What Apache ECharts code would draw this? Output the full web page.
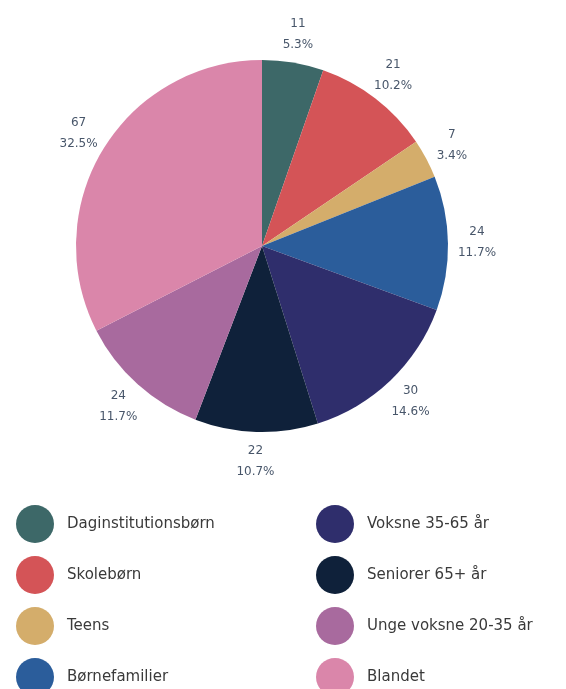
<!DOCTYPE html>
<html>
<head>
<meta charset="utf-8">
<script src="https://cdn.jsdelivr.net/npm/echarts@6/dist/echarts.min.js"></script>
<style>html,body{margin:0;padding:0;background:#fff;}#c{width:566px;height:689px;}</style>
</head>
<body>
<div id="c"></div>
<script>
const categories = ["Daginstitutionsbørn","Skolebørn","Teens","Børnefamilier","Voksne 35-65 år","Seniorer 65+ år","Unge voksne 20-35 år","Blandet"];
const values = [11, 21, 7, 24, 30, 22, 24, 67];
const colors = ["#3d6868","#d45457","#d4ad6b","#2b5d9b","#2f2e6c","#0f213a","#a86a9e","#da86aa"];
const leftLegend = categories.slice(0, 4);
const rightLegend = categories.slice(4);

const total = values.reduce((a, b) => a + b, 0);
const chart = echarts.init(document.getElementById('c'));
const data = categories.map((n, i) => ({name: n, value: values[i], itemStyle: {color: colors[i]}}));
const labelData = categories.map((n, i) => ({name: n, value: values[i], itemStyle: {color: 'rgba(0,0,0,0)'}}));
const legendBase = {
  orient: 'vertical', icon: 'circle', itemWidth: 38, itemHeight: 38, itemGap: 13,
  selectedMode: false, height: 300, width: 250,
  textStyle: {fontFamily: 'DejaVu Sans', fontSize: 15, color: '#3a3a3a', padding: [0,0,0,8]}
};
chart.setOption({
  animation: false,
  color: colors,
  legend: [
    Object.assign({}, legendBase, {left: 11, top: 500, data: leftLegend}),
    Object.assign({}, legendBase, {left: 311, top: 500, data: rightLegend})
  ],
  series: [
    {
      type: 'pie', center: [262, 246], radius: [0, 186], startAngle: 90, clockwise: true,
      label: {show: false}, labelLine: {show: false}, data: data
    },
    {
      type: 'pie', center: [262, 246], radius: [196, 228], startAngle: 90, clockwise: true,
      silent: true,
      label: {show: true, position: 'inside',
        formatter: p => p.value + '\n' + (p.value / total * 100).toFixed(1) + '%',
        fontFamily: 'DejaVu Sans', fontSize: 12, color: '#48566a', lineHeight: 21},
      labelLine: {show: false}, data: labelData
    }
  ]
});
</script>
</body>
</html>
